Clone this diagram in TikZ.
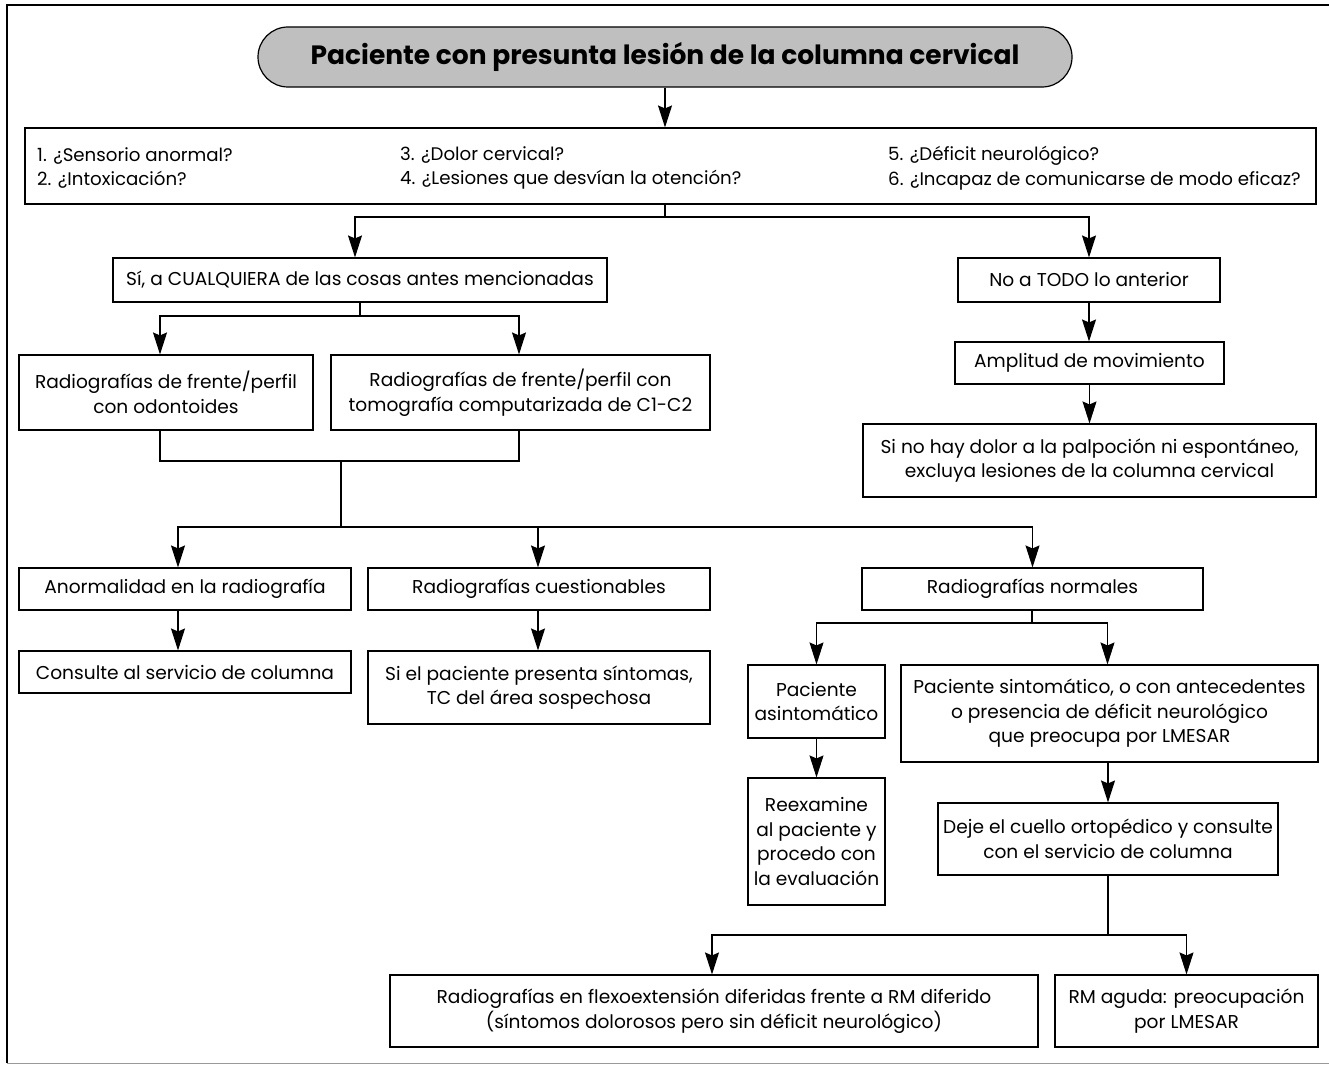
\documentclass[tikz,border=0pt]{standalone}
\usepackage{fontspec}
\setmainfont{Poppins}
\usetikzlibrary{arrows.meta}
\begin{document}
\begin{tikzpicture}[x=1pt,y=-1pt,
  every node/.style={font=\fontsize{18.6}{24.5}\selectfont},
  box/.style={draw, line width=1.1pt, align=center, inner sep=0pt},
  plain/.style={inner sep=0pt, align=left, anchor=west, font=\fontsize{18.2}{24.5}\selectfont},
  conn/.style={line width=1.2pt},
  arr/.style={conn, -{Stealth[length=22pt,width=14pt,inset=3pt]}},
  frame/.style={line width=2pt}]
\useasboundingbox (0,0) rectangle (1329,1065);
% frame
\draw[frame] (1329,5) -- (7,5) -- (7,1063);
\draw[line width=1pt, black!40] (7,1063) -- (1329,1063);
% title
\node[draw, line width=1.2pt, fill=black!25, rounded corners=30pt, minimum width=814pt, minimum height=60pt, inner sep=0pt,
  font=\fontsize{26.5}{30}\selectfont\bfseries] (title) at (665,57) {Paciente con presunta lesión de la columna cervical};
% questions box
\node[box, minimum width=1291pt, minimum height=76pt] (q) at (670.5,166) {};
\node[plain] (q1) at (37,168) {1. ¿Sensorio anormal?\\2. ¿Intoxicación?};
\node[plain] (q2) at (400,168) {3. ¿Dolor cervical?\\4. ¿Lesiones que desvían la otención?};
\node[plain] (q3) at (888,168) {5. ¿Déficit neurológico?\\6. ¿Incapaz de comunicarse de modo eficaz?};
% level 2
\node[box, minimum width=494pt, minimum height=44pt] (si) at (360,280) {Sí, a CUALQUIERA de las cosas antes mencionadas};
\node[box, minimum width=262pt, minimum height=44pt] (no) at (1089,280) {No a TODO lo anterior};
% left branch
\node[box, minimum width=294pt, minimum height=75pt] (rx1) at (166,392.5) {Radiografías de frente/perfil\\con odontoides};
\node[box, minimum width=379pt, minimum height=75pt] (rx2) at (520.5,392.5) {Radiografías de frente/perfil con\\tomografía computarizada de C1-C2};
% right branch
\node[box, minimum width=269pt, minimum height=42pt] (amp) at (1089.5,363) {Amplitud de movimiento};
\node[box, minimum width=453pt, minimum height=73pt] (sino) at (1089.5,460.5) {Si no hay dolor a la palpoción ni espontáneo,\\excluya lesiones de la columna cervical};
% level 4
\node[box, minimum width=332pt, minimum height=42pt] (anor) at (185,589) {Anormalidad en la radiografía};
\node[box, minimum width=342pt, minimum height=42pt] (cuest) at (539,589) {Radiografías cuestionables};
\node[box, minimum width=341pt, minimum height=42pt] (norm) at (1032.5,589) {Radiografías normales};
\node[box, minimum width=332pt, minimum height=42pt] (cons) at (185,672) {Consulte al servicio de columna};
\node[box, minimum width=342pt, minimum height=73pt] (sipac) at (539,687.5) {Si el paciente presenta síntomas,\\TC del área sospechosa};
\node[box, minimum width=137pt, minimum height=73pt] (asin) at (816.5,701.5) {Paciente\\asintomático};
\node[box, minimum width=417pt, minimum height=97pt] (sint) at (1109.5,713.5) {Paciente sintomático, o con antecedentes\\o presencia de déficit neurológico\\que preocupa por LMESAR};
\node[box, minimum width=137pt, minimum height=127pt] (reex) at (816.5,841.5) {Reexamine\\al paciente y\\procedo con\\la evaluación};
\node[box, minimum width=340pt, minimum height=72pt] (deje) at (1108,839) {Deje el cuello ortopédico y consulte\\con el servicio de columna};
\node[box, minimum width=648pt, minimum height=72pt] (flex) at (714,1011) {Radiografías en flexoextensión diferidas frente a RM diferido\\(síntomos dolorosos pero sin déficit neurológico)};
\node[box, minimum width=263pt, minimum height=72pt] (rm) at (1186.5,1011) {RM aguda: preocupación\\por LMESAR};
% junction coordinates
\coordinate (j1) at (665,217);
\coordinate (j2) at (360,316);
\coordinate (j3) at (341,461);
\coordinate (j4) at (341,527);
\coordinate (j5) at (1032,623);
\coordinate (j6) at (1108,935);
% connectors
\draw[arr] (title.south) -- (title.south |- q.north);
\draw[conn] (q.south -| j1) -- (j1);
\draw[arr] (j1) -| ([xshift=-5pt]si.north);
\draw[arr] (j1) -| (no.north);
\draw[conn] (si.south) -- (j2);
\draw[arr] (j2) -| ([xshift=-6pt]rx1.north);
\draw[arr] (j2) -| ([xshift=-1.5pt]rx2.north);
\draw[conn] ([xshift=-6pt]rx1.south) |- (j3);
\draw[conn] ([xshift=-1.5pt]rx2.south) |- (j3);
\draw[conn] (j3) -- (j4);
\draw[arr] (j4) -| ([xshift=-7pt]anor.north);
\draw[arr] (j4) -| ([xshift=-1pt]cuest.north);
\draw[arr] (j4) -| (norm.north);
\draw[arr] ([xshift=-7pt]anor.south) -- ([xshift=-7pt]cons.north);
\draw[arr] ([xshift=-1pt]cuest.south) -- ([xshift=-1pt]sipac.north);
\draw[conn] (norm.south -| j5) -- (j5);
\draw[arr] (j5) -| (asin.north);
\draw[arr] (j5) -| ([xshift=-2pt]sint.north);
\draw[arr] (asin.south) -- (reex.north);
\draw[arr] (deje.north |- sint.south) -- (deje.north);
\draw[conn] (deje.south) -- (j6);
\draw[arr] (j6) -| ([xshift=-2pt]flex.north);
\draw[arr] (j6) -| (rm.north);
\draw[arr] (no.south) -- (no.south |- amp.north);
\draw[arr] (amp.south) -- (amp.south |- sino.north);
\end{tikzpicture}
\end{document}
